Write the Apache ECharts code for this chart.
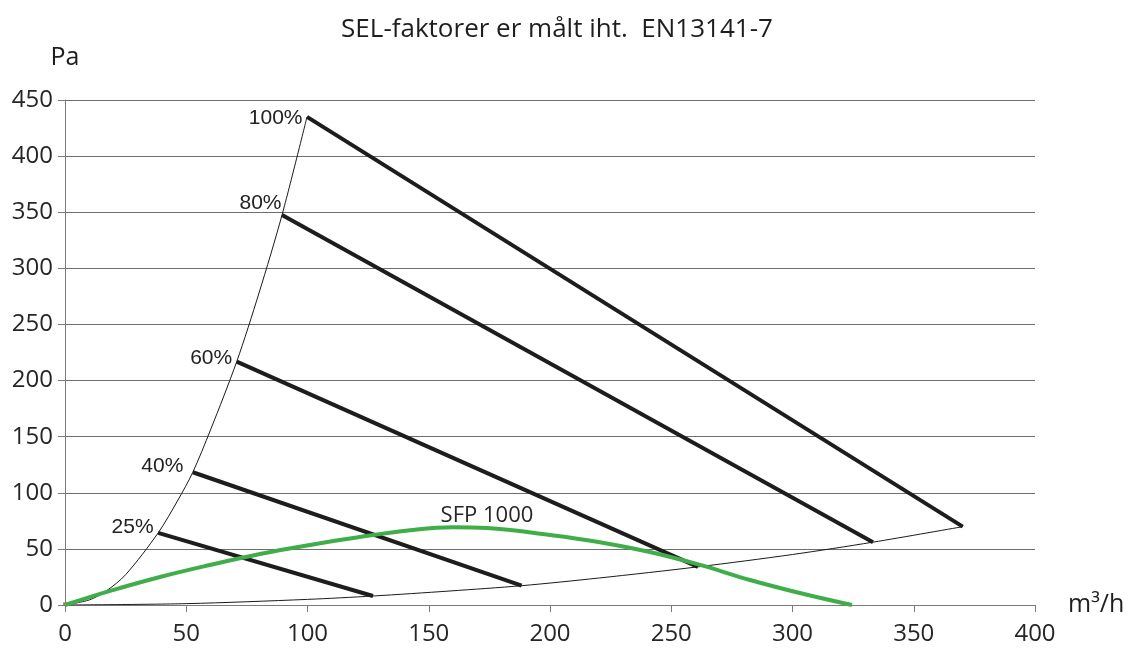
<!DOCTYPE html>
<html lang="no" style="height: 100%">
<head>
  <meta charset="utf-8">
</head>
<body style="height: 100%; margin: 0; background: #fff">
  <div id="container" style="width: 1128px; height: 651px"></div>

  <script type="text/javascript" src="https://fastly.jsdelivr.net/npm/echarts@6.0.0/dist/echarts.min.js"></script>
  <script type="text/javascript">
    // fan speed curves
    var speedLabels = ['100%', '80%', '60%', '40%', '25%'];
    var speedStart = [[99.8, 435], [89.5, 347.6], [70.8, 216.8], [52.7, 118.3], [38.4, 64.2]];
    var speedEnd = [[370.2, 69.8], [333.2, 56], [261, 34], [188.3, 17.2], [127, 8]];

    // thin system curves (left = max, bottom = min)
    var leftCurve = [[0, 0], [10, 4.5], [17, 12.5], [25, 27], [38.4, 64.2], [46.6, 93.6], [52.7, 118.3],
      [60, 156], [70.8, 216.8], [80, 278], [89.5, 347.6], [99.8, 435]];
    var bottomCurve = [[0, 0], [50, 1.2], [100, 5], [127, 8], [158.8, 12.5], [188.3, 17.2], [220, 24],
      [261, 34], [300, 45], [333.2, 56], [370.2, 69.8]];

    // SFP 1000 line
    var sfpCurve = [[0, 0], [18.6, 12.6], [39.2, 25], [59.8, 35.7], [80.4, 45.5], [101, 53.5], [121.6, 60.6],
      [142.3, 66.6], [160, 69.3], [174, 68.6], [200, 62.4], [220.6, 56], [241.2, 47.2], [261.9, 35.7],
      [282.5, 22.3], [303, 10.7], [324.5, 0]];
    var sfpLabelIndex = 9;

    var labelOffsets = [[0, 1], [4, -12], [0, -3], [-5, -6], [0, -6]];

    var dinFont = '"Open Sans", "Noto Sans", sans-serif';
    var txtColor = '#262626';

    var dom = document.getElementById('container');
    var myChart = echarts.init(dom, null, { renderer: 'canvas' });

    var series = [];
    series.push({
      type: 'line', data: leftCurve, smooth: 0.3, symbol: 'none',
      lineStyle: { color: '#1a1a1a', width: 1 }, silent: true, z: 2
    });
    series.push({
      type: 'line', data: bottomCurve, smooth: 0.3, symbol: 'none',
      lineStyle: { color: '#1a1a1a', width: 1 }, silent: true, z: 2
    });
    speedLabels.forEach(function (name, i) {
      series.push({
        type: 'line', name: name,
        data: [
          {
            value: speedStart[i],
            label: {
              show: true, position: 'left', distance: 4, offset: labelOffsets[i],
              formatter: name, fontFamily: '"Liberation Sans", Arial, sans-serif',
              fontSize: 21, color: '#222'
            }
          },
          speedEnd[i]
        ],
        symbol: 'circle', symbolSize: 1, showSymbol: true,
        itemStyle: { color: 'rgba(0,0,0,0)' },
        lineStyle: { color: '#1e1c1c', width: 4 }, silent: true, z: 3
      });
    });
    series.push({
      type: 'line', name: 'SFP 1000',
      data: sfpCurve.map(function (p, i) {
        if (i !== sfpLabelIndex) return p;
        return {
          value: p,
          label: {
            show: true, position: 'top', distance: 1, formatter: 'SFP 1000',
            fontFamily: dinFont, fontSize: 22, color: txtColor
          }
        };
      }),
      smooth: 0.4, symbol: 'circle', symbolSize: 1, showSymbol: true,
      itemStyle: { color: 'rgba(0,0,0,0)' },
      lineStyle: { color: '#3fae49', width: 4 }, silent: true, z: 4
    });
    series.push({
      type: 'scatter', data: [[0, 1]], symbol: 'rect', symbolSize: [4, 3],
      itemStyle: { color: '#e8403a' }, silent: true, z: 1
    });

    var option = {
      animation: false,
      title: {
        text: 'SEL-faktorer er målt iht.  EN13141-7',
        left: 552, textAlign: 'center', top: 12,
        textStyle: { fontFamily: dinFont, fontSize: 26, fontWeight: 'normal', color: '#1e1e1e' }
      },
      grid: { left: 65, right: 93, top: 100, bottom: 46 },
      xAxis: {
        type: 'value', min: 0, max: 400, interval: 50,
        name: 'm³/h', nameLocation: 'end', nameGap: 33,
        nameTextStyle: { fontFamily: dinFont, fontSize: 25, color: '#1e1e1e', align: 'left', verticalAlign: 'middle' },
        axisLine: { lineStyle: { color: '#7a7a7a', width: 1 } },
        axisTick: { show: true, length: 7, lineStyle: { color: '#7a7a7a' } },
        axisLabel: { margin: 17, fontFamily: dinFont, fontSize: 24, color: txtColor },
        splitLine: { show: false }
      },
      yAxis: {
        type: 'value', min: 0, max: 450, interval: 50,
        name: 'Pa', nameLocation: 'end', nameGap: 30,
        nameTextStyle: { fontFamily: dinFont, fontSize: 25, color: '#1e1e1e', align: 'center' },
        axisLine: { show: true, lineStyle: { color: '#7a7a7a', width: 1 } },
        axisTick: { show: true, length: 7, lineStyle: { color: '#7a7a7a' } },
        axisLabel: { margin: 12, fontFamily: dinFont, fontSize: 24, color: txtColor },
        splitLine: { show: true, lineStyle: { color: '#6e6e6e', width: 1 } }
      },
      series: series
    };

    myChart.setOption(option);
    window.addEventListener('resize', myChart.resize);
  </script>
</body>
</html>
